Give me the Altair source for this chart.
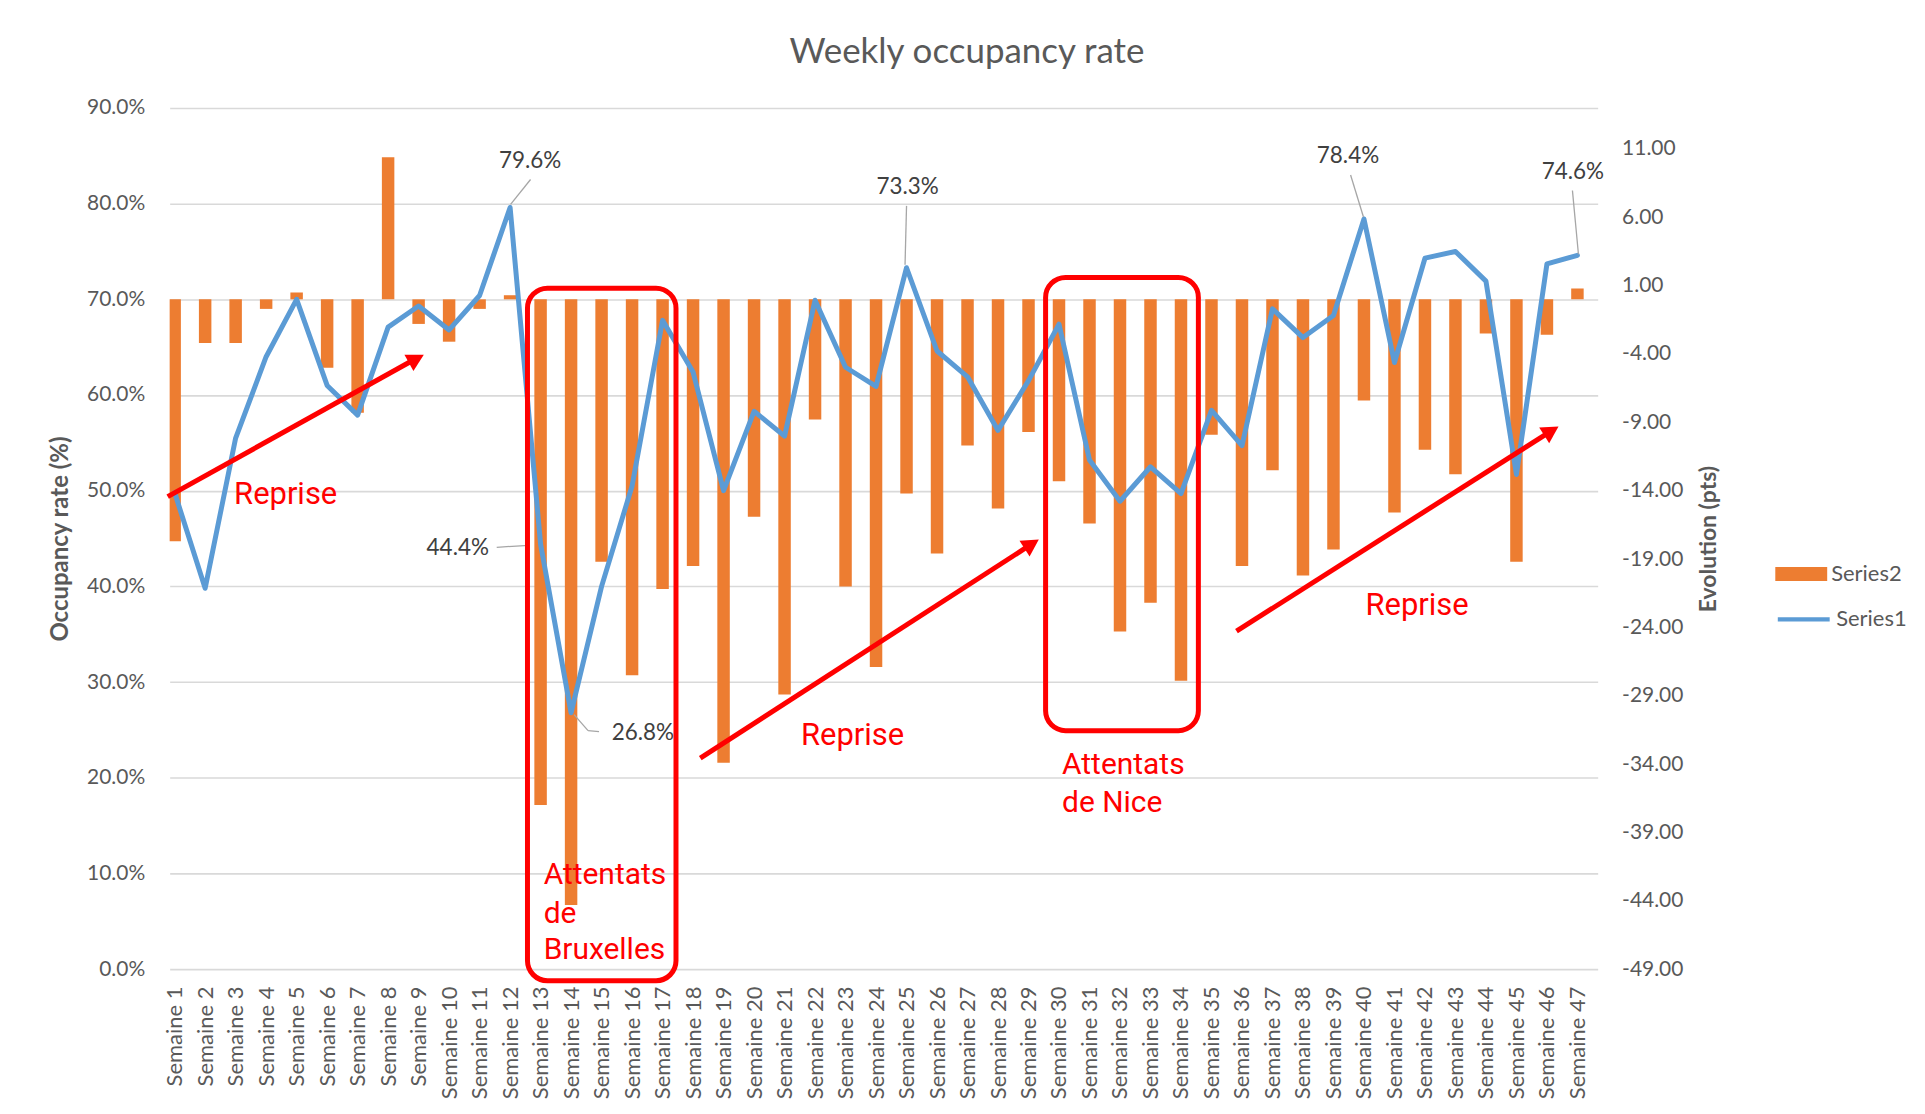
import altair as alt
import pandas as pd

# ---------------- data ----------------
weeks = list(range(1, 48))

occupancy = [49.8, 39.8, 55.5, 64.0, 70.0, 61.0, 57.9, 67.1, 69.3, 66.8, 70.4, 79.6,
             44.4, 26.8, 40.0, 50.5, 67.8, 62.4, 50.0, 58.3, 55.7, 69.9, 62.9, 60.9,
             73.3, 64.6, 61.9, 56.3, 61.5, 67.4, 53.2, 48.9, 52.5, 49.7, 58.4, 54.7,
             69.0, 66.0, 68.3, 78.4, 63.4, 74.3, 75.0, 71.9, 51.7, 73.7, 74.6]

evolution = [-17.7, -3.2, -3.2, -0.7, 0.5, -5.0, -8.3, 10.4, -1.8, -3.1, -0.7, 0.3,
             -37.0, -44.3, -19.2, -27.5, -21.2, -19.5, -33.9, -15.9, -28.9, -8.8, -21.0, -26.9,
             -14.2, -18.6, -10.7, -15.3, -9.7, -13.3, -16.4, -24.3, -22.2, -27.9, -9.9, -19.5,
             -12.5, -20.2, -18.3, -7.4, -15.6, -11.0, -12.8, -2.5, -19.2, -2.6, 0.8]

left_ticks = list(range(0, 91, 10))
right_ticks = list(range(-49, 12, 5))
labelled_weeks = [12, 13, 14, 25, 40, 47]

# annotations (in data units: week, occupancy %)
box_x = [12.57, 29.56]
box_x2 = [17.44, 34.57]
box_y = [71.16, 72.28]
box_y2 = [-1.21, 24.92]

arrow_x = [0.772, 18.237, 35.82]
arrow_y = [49.38, 22.06, 35.32]
arrow_x2 = [8.757, 28.955, 45.99]
arrow_y2 = [63.53, 44.12, 55.94]
head_x = [9.17, 29.338, 46.38]
head_y = [64.22, 44.91, 56.72]
head_angle = [61.2, 57.3, 57.7]

reprise_x = [4.64, 23.23, 41.74]
reprise_y = [49.5, 24.4, 37.98]

brux_lines = ["Attentats", "de", "Bruxelles"]
brux_x = [13.10, 13.10, 13.10]
brux_y = [9.80, 5.73, 1.98]

nice_lines = ["Attentats", "de Nice"]
nice_x = [30.10, 30.10]
nice_y = [21.37, 17.31]

# ---------------- tables ----------------
df = pd.DataFrame({"week": weeks, "occ": occupancy, "evol": evolution})
df["s1"] = "Series1"
df["s2"] = "Series2"

boxes = pd.DataFrame({"week": box_x, "x2": box_x2, "y": box_y, "y2": box_y2})
arrows = pd.DataFrame({"week": arrow_x, "y": arrow_y, "x2": arrow_x2, "y2": arrow_y2})
heads = pd.DataFrame({"week": head_x, "y": head_y, "angle": head_angle})
reprise = pd.DataFrame({"week": reprise_x, "y": reprise_y, "t": ["Reprise"] * 3})
attn = pd.DataFrame({"week": brux_x + nice_x, "y": brux_y + nice_y, "t": brux_lines + nice_lines})

# ---------------- styles ----------------
FONT = "Lato"
RFONT = "Roboto"
GRAY = "#595959"
ORANGE = "#ED7D31"
BLUE = "#5B9BD5"
RED = "#FF0000"
GRID = "#D9D9D9"

W, H = 1431, 863

XS = alt.Scale(domain=[1, 47.5], nice=False, zero=False)
YL = alt.Scale(domain=[0, 90], nice=False, zero=False)
YR = alt.Scale(domain=[-49, 14], nice=False, zero=False)

x_axis = alt.Axis(values=weeks, labelExpr="'Semaine ' + datum.value", labelAngle=270,
                  labelFontSize=22, labelColor=GRAY, labelFont=FONT, labelPadding=17,
                  ticks=False, tickSize=0, domain=False, grid=False, title=None,
                  labelOverlap=False, labelBound=False, labelFlush=False)

right_axis = alt.Axis(orient="right", values=right_ticks,
                      labelExpr="(datum.value < 0 ? '-' : '') + format(abs(datum.value), '.2f')",
                      grid=False, ticks=False, tickSize=0, domain=False, labelFontSize=21,
                      labelColor=GRAY, labelFont=FONT, labelPadding=24,
                      title="Evolution (pts)", titleFont=FONT, titleFontSize=23,
                      titleFontWeight="bold", titleColor=GRAY, titleAngle=270,
                      titleX=111, titleY=H / 2, titleAlign="center", titleBaseline="middle")

left_axis = alt.Axis(orient="left", values=left_ticks,
                     labelExpr="format(datum.value, '.1f') + '%'", grid=True,
                     gridColor=GRID, gridWidth=1.6, ticks=False, tickSize=0, domain=False,
                     labelFontSize=21, labelColor=GRAY, labelFont=FONT, labelPadding=25,
                     title="Occupancy rate (%)", titleFont=FONT, titleFontSize=24,
                     titleFontWeight="bold", titleColor=GRAY, titleAngle=270,
                     titleX=-109, titleY=H / 2, titleAlign="center", titleBaseline="middle")

X = alt.X("week:Q", scale=XS, axis=x_axis)

bars = alt.Chart(df).mark_bar(size=12.5, clip=True).encode(
    x=X,
    y=alt.Y("evol:Q", scale=YR, axis=right_axis),
    y2=alt.datum(0),
    fill=alt.Fill("s2:N", scale=alt.Scale(domain=["Series2"], range=[ORANGE]),
                  legend=alt.Legend(title=None, orient="none", legendX=1609, legendY=441,
                                    padding=0, symbolType="M-1,-0.27h2v0.54h-2z",
                                    symbolSize=2704, symbolStrokeWidth=0,
                                    labelFont=FONT, labelFontSize=22, labelColor=GRAY)),
)

line = alt.Chart(df).mark_line(strokeWidth=5, strokeJoin="round", strokeCap="round").encode(
    x=X,
    y=alt.Y("occ:Q", scale=YL, axis=left_axis),
    stroke=alt.Stroke("s1:N", scale=alt.Scale(domain=["Series1"], range=[BLUE]),
                      legend=alt.Legend(title=None, orient="none", legendX=1609, legendY=484,
                                        padding=0, symbolType="stroke", symbolSize=2704,
                                        symbolStrokeWidth=4.5,
                                        labelFont=FONT, labelFontSize=22, labelColor=GRAY)),
)

YN = alt.Y("occ:Q", scale=YL, axis=None)

# label text offsets and leader segments (pixels), per labelled week
label_style = {
    12: dict(dx=20, dy=-47, seg=[(20.5, -28, 0.5, -3)]),
    13: dict(dx=-83, dy=4, seg=[(-44, 3, -12, 1)]),
    14: dict(dx=72, dy=20, seg=[(3, 2, 17, 18), (17, 18, 28, 19)]),
    25: dict(dx=1, dy=-81, seg=[(0, -62, -1.5, -3)]),
    40: dict(dx=-16, dy=-63, seg=[(-13.4, -44, -0.5, -2)]),
    47: dict(dx=-4.6, dy=-83, seg=[(-5, -65, 1, -1)]),
}

label_layers = []
for wk in labelled_weeks:
    st = label_style[wk]
    base = alt.Chart(df).transform_filter(f"datum.week == {wk}")
    for (a, b, c, d) in st["seg"]:
        label_layers.append(
            base.mark_rule(color="#A6A6A6", strokeWidth=1.3, xOffset=a, yOffset=b,
                           x2Offset=c, y2Offset=d).encode(
                x=X, y=YN, x2="week:Q", y2="occ:Q")
        )
    label_layers.append(
        base.transform_calculate(lbl="format(datum.occ, '.1f') + '%'")
        .mark_text(dx=st["dx"], dy=st["dy"], font=FONT, fontSize=22.5, color="#404040",
                   align="center", baseline="middle")
        .encode(x=X, y=YN, text="lbl:N")
    )

AY = alt.Y("y:Q", scale=YL, axis=None)

box_layer = alt.Chart(boxes).mark_rect(filled=False, stroke=RED, strokeWidth=5,
                                       cornerRadius=20).encode(x=X, x2="x2:Q", y=AY, y2="y2:Q")

arrow_layer = alt.Chart(arrows).mark_rule(color=RED, strokeWidth=5).encode(
    x=X, y=AY, x2="x2:Q", y2="y2:Q")

head_layer = alt.Chart(heads).mark_point(shape="M0,0L-0.55,1L0.55,1Z", filled=True,
                                         size=1156, color=RED, opacity=1,
                                         strokeWidth=0).encode(
    x=X, y=AY, angle=alt.Angle("angle:Q", scale=None))

reprise_layer = alt.Chart(reprise).mark_text(font=RFONT, fontSize=31, color=RED,
                                             align="center", baseline="middle").encode(
    x=X, y=AY, text="t:N")

attn_layer = alt.Chart(attn).mark_text(font=RFONT, fontSize=30, color=RED,
                                       align="left", baseline="middle").encode(
    x=X, y=AY, text="t:N")

chart = alt.layer(
    bars, line, *label_layers, box_layer, arrow_layer, head_layer, reprise_layer, attn_layer
).resolve_scale(
    y="independent"
).properties(
    width=W, height=H,
    autosize=alt.AutoSizeParams(type="none"),
    padding={"left": 162, "top": 99, "right": 320, "bottom": 140},
    title=alt.TitleParams("Weekly occupancy rate", font=FONT, fontSize=35, color=GRAY,
                          fontWeight="normal", anchor="middle", dx=83.5, offset=27),
).configure(background="white").configure_view(stroke=None)

chart.save("out.html", embed_options={"renderer": "svg", "actions": False})
